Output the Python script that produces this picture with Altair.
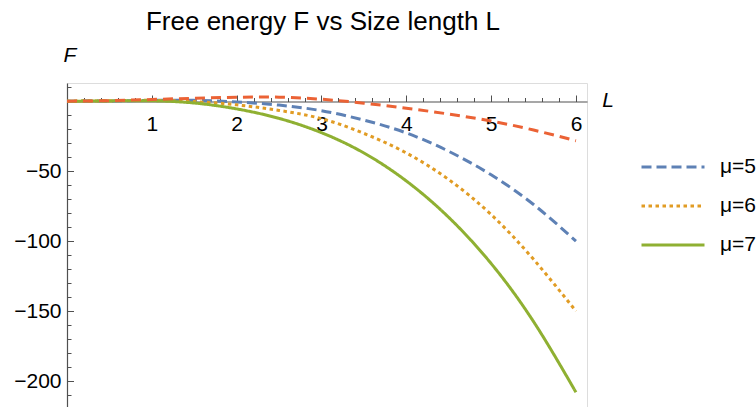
import altair as alt
import pandas as pd

# ---- data ----
L_vals = [0, 0.5, 1, 1.5, 2, 2.5, 3, 3.5, 4, 4.5, 5, 5.5, 6]
F_red = [0, 0.4, 1.2, 2.1, 2.8, 2.9, 1.4, -1.4, -5.0, -9.2, -14.2, -20.6, -28.3]
F_mu5 = [0, 0.2, 0.6, 0.6, -0.5, -2.8, -6.8, -13.5, -22.7, -35.8, -52.6, -73.8, -100]
F_mu6 = [0, 0.3, 0.6, -0.3, -2.6, -6.6, -12.5, -23, -37, -56, -81, -113, -150]
F_mu7 = [0, 0.2, 0.3, -1.3, -5.5, -12.3, -22.5, -37, -57, -83, -116, -157.5, -208]
series_labels = ["μ=5", "μ=6", "μ=7"]
series_colors = ["#5E81B5", "#E19C24", "#8FB032"]

x_major = [0, 1, 2, 3, 4, 5, 6]
x_minor = [0.2, 0.4, 0.6, 0.8, 1.2, 1.4, 1.6, 1.8, 2.2, 2.4, 2.6, 2.8,
           3.2, 3.4, 3.6, 3.8, 4.2, 4.4, 4.6, 4.8, 5.2, 5.4, 5.6, 5.8]
y_major = [-200, -150, -100, -50, 0]
y_minor = [-210, -190, -180, -170, -160, -140, -130, -120, -110, -90, -80,
           -70, -60, -40, -30, -20, -10, 10]

df_red = pd.DataFrame({"L": L_vals, "F": F_red})
rows = []
for lab, vals in zip(series_labels, [F_mu5, F_mu6, F_mu7]):
    for l, f in zip(L_vals, vals):
        rows.append({"L": l, "F": f, "series": lab})
df_mu = pd.DataFrame(rows)

FONT = "Liberation Sans"
AX = "#505050"
W, H = 520, 324
xscale = alt.Scale(domain=[0, 6.13], nice=False, zero=False)
yscale = alt.Scale(domain=[-218.5, 13], nice=False, zero=False)
hide0 = "datum.value == 0 ? '' : datum.label"

x_major_axis = alt.Axis(
    orient="top", offset=-18.5, values=x_major, labelExpr=hide0,
    tickSize=6.5, tickColor=AX, tickWidth=1, domainColor=AX, domainWidth=1.2,
    labelBaseline="top", labelPadding=-18, labelFontSize=21, labelFont=FONT,
    labelColor="black", labelFlush=False, labelOverlap=False, grid=False,
    title="L", titleFont=FONT, titleFontStyle="italic", titleFontWeight="normal",
    titleFontSize=21, titleColor="black", titleX=540.5, titleY=-1,
    titleAlign="center", titleBaseline="middle", titleAngle=0)
x_minor_axis = alt.Axis(
    orient="top", offset=-18.5, values=x_minor, tickSize=4, tickColor=AX,
    tickWidth=1, labels=False, domain=False, grid=False, title=None)
y_major_axis = alt.Axis(
    orient="right", offset=-W, values=y_major, labelExpr=hide0,
    tickSize=6.5, tickColor=AX, tickWidth=1, domainColor=AX, domainWidth=1.2,
    labelAlign="right", labelBaseline="middle", labelPadding=-12.5,
    labelFontSize=21, labelFont=FONT, labelColor="black", labelFlush=False,
    labelOverlap=False, grid=False,
    title="F", titleFont=FONT, titleFontStyle="italic", titleFontWeight="normal",
    titleFontSize=21, titleColor="black", titleX=2.5, titleY=-27.5,
    titleAlign="center", titleBaseline="middle", titleAngle=0)
y_minor_axis = alt.Axis(
    orient="right", offset=-W, values=y_minor, tickSize=4, tickColor=AX,
    tickWidth=1, labels=False, domain=False, grid=False, title=None)

legend = alt.Legend(
    title=None, orient="none", legendX=573, legendY=74, symbolType="stroke",
    symbolSize=3969, symbolStrokeWidth=3, clipHeight=20, rowPadding=18,
    labelFontSize=21, labelFont=FONT, labelColor="black", labelOffset=14)

mu_lines = alt.Chart(df_mu).mark_line(interpolate="natural").encode(
    x=alt.X("L:Q", scale=xscale, axis=x_minor_axis),
    y=alt.Y("F:Q", scale=yscale, axis=y_minor_axis),
    color=alt.Color("series:N", scale=alt.Scale(domain=series_labels, range=series_colors), legend=legend),
    strokeDash=alt.StrokeDash("series:N", scale=alt.Scale(domain=series_labels, range=[[10, 5], [3.5, 3.5], [1, 0]]), legend=legend),
    strokeWidth=alt.StrokeWidth("series:N", scale=alt.Scale(domain=series_labels, range=[3, 3, 3.8]), legend=None),
)

red_line = alt.Chart(df_red).mark_line(
    color="#EB6235", strokeDash=[10, 6], strokeWidth=3, interpolate="natural"
).encode(
    x=alt.X("L:Q", scale=xscale, axis=x_major_axis),
    y=alt.Y("F:Q", scale=yscale, axis=y_major_axis),
)

chart = alt.layer(mu_lines, red_line).resolve_axis(
    x="independent", y="independent"
).properties(
    width=W, height=H,
    autosize=alt.AutoSizeParams(type="none"),
    padding={"left": 67, "top": 83, "right": 169, "bottom": 0},
    title=alt.Title("Free energy F vs Size length L", font=FONT, fontSize=26,
                    fontWeight="normal", color="black", anchor="middle", dx=-4, offset=10),
).configure_view(stroke=None).configure(background="white")

chart.save("out.html", embed_options={"renderer": "svg", "actions": False})
